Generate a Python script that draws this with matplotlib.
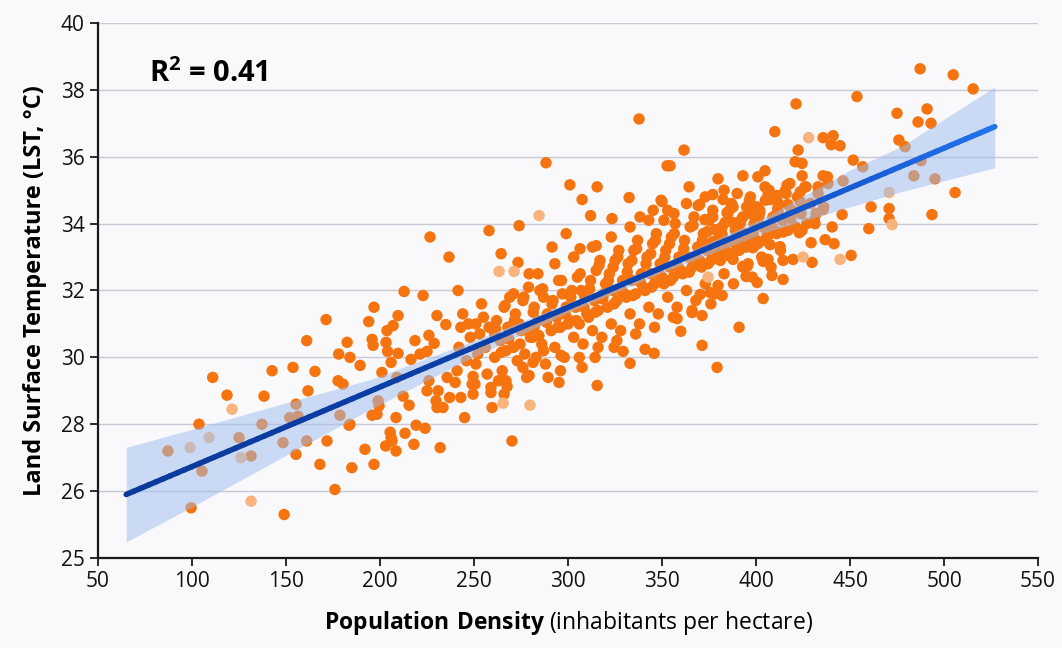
import numpy as np
import matplotlib.pyplot as plt
from matplotlib.collections import LineCollection
from matplotlib.colors import LinearSegmentedColormap

plt.rcParams['font.family'] = ['Open Sans', 'DejaVu Sans']
plt.rcParams['mathtext.fontset'] = 'custom'
plt.rcParams['mathtext.rm'] = 'Open Sans'
plt.rcParams['mathtext.bf'] = 'Open Sans:bold'

# (population density, LST)
sparse_pts = [
    (87.2, 27.2), (105.3, 26.6), (99.5, 25.5), (131.4, 27.05), (149, 25.3), (155.3, 27.1), (161, 27.5),
    (168, 26.8), (171.8, 27.5), (176, 26.05), (185, 26.7), (192, 27.25), (196.8, 26.8), (203, 27.35),
    (206.4, 27.5), (208.5, 27.2), (218, 27.4), (232, 27.3), (148.4, 27.45),
    (111, 29.4), (118.6, 28.87), (138.3, 28.84), (142.6, 29.6), (153.7, 29.7), (165.4, 29.58), (161, 30.5),
    (178, 30.1), (182.5, 30.45), (177.7, 29.3), (161.7, 29.0), (155.3, 28.6), (152, 28.2), (156.4, 28.24),
    (137.2, 28.0), (125, 27.6), (103.7, 28.0), (184, 30.0), (184, 28.0),
    (226.6, 33.6), (236.7, 33.0), (212.8, 31.97), (222.9, 31.85), (241.5, 32.0), (196.8, 31.5), (209.6, 31.25),
    (194, 31.07), (171.3, 31.13), (230.3, 31.25), (235, 30.98), (207, 30.95), (203.7, 30.8), (195.8, 30.54),
    (196.3, 30.36), (203.2, 30.45), (218.6, 30.5), (226, 30.66), (228.8, 30.42), (204, 30.18), (209.6, 30.12),
    (216.5, 29.94), (221.3, 30.1), (225, 30.18), (205.9, 29.85), (189.4, 29.76), (201, 29.55), (180.3, 29.2),
    (226, 29.3), (225, 29.0), (230.9, 29.0), (212.3, 28.84), (199, 28.7), (215.5, 28.57), (178.7, 28.27),
    (195.8, 28.27), (198.4, 28.3), (208.5, 28.2), (229.8, 28.7), (233.5, 28.5), (230.3, 28.5), (183.5, 27.97),
    (219.2, 27.97), (224, 27.88), (213.3, 27.73), (205.4, 27.76), (205.9, 27.6), (245, 28.2), (243, 28.8),
    (237, 28.8), (235.7, 29.4), (240, 29.25), (209, 29.4), (199.5, 28.55), (267, 29.3), (281.4, 29.85),
    (337.8, 37.13), (288.3, 35.82), (352.7, 35.73), (301, 35.16), (315.5, 35.1), (307.5, 34.72), (332.5, 34.78),
    (312, 34.24), (274, 33.94), (258, 33.79), (299, 33.7), (323.4, 34.15), (338.3, 34.2), (345.3, 34.4),
    (349.5, 34.7), (291.5, 33.3), (306.4, 33.25), (315, 33.34), (264.4, 33.1), (273.4, 32.84), (279.3, 32.5),
    (270.2, 27.5), (259.6, 28.5), (307.5, 29.7), (315.5, 29.16), (295.2, 29.25), (289.4, 29.4), (333, 29.82),
    (345.8, 30.12), (341, 30.24), (329.3, 30.18), (324.5, 30.3), (314.4, 30.0), (296.3, 30.06), (279.3, 29.46),
    (267.6, 29.13), (259, 28.95), (249.5, 28.9), (250.5, 29.2), (249.5, 29.43),
    (421.3, 37.58), (453.7, 37.8), (410, 36.75), (435.7, 36.57), (441, 36.63), (440, 36.36), (444.7, 36.33),
    (422.4, 36.2), (361.7, 36.2), (354.3, 35.73), (420.8, 35.85), (424.5, 35.8), (451.7, 35.9), (379.8, 35.34),
    (393, 35.43), (401, 35.4), (404.8, 35.58), (364.4, 35.1), (424.5, 35.43), (435.7, 35.43), (426.6, 35.1),
    (433, 35.1), (438.3, 35.2), (446.3, 35.28), (390, 34.9), (382.5, 34.72), (377, 34.87), (369.2, 34.54),
    (350, 34.66), (415.5, 34.98), (411.3, 34.84), (407.5, 34.72), (387.8, 34.5), (400.6, 34.5), (397, 34.36),
    (402, 34.33), (356.4, 34.3), (351, 34.1), (440.5, 33.9), (445.8, 34.27), (432, 34.3), (435.7, 34.42),
    (436.8, 33.52), (441.5, 33.4), (450.6, 33.05), (429.3, 33.43), (429.8, 32.84), (423, 33.73), (424.5, 33.8),
    (414.4, 32.9), (408.5, 32.45), (414.4, 32.33), (419.7, 32.93), (400.6, 32.24), (394.7, 32.42), (395.3, 32.72),
    (395.8, 32.8), (403.8, 32.87), (406.4, 32.93), (407.5, 33.37), (412.8, 33.31), (403.8, 31.76), (391, 30.9),
    (371.3, 30.36), (379.3, 29.7), (360, 30.78), (358, 31.16), (366, 31.34), (371.3, 31.25), (379.8, 32.15),
    (382, 31.85), (375.6, 31.94), (370.3, 31.88),
    (431.4, 34.0), (423.5, 34.95), (404.8, 35.1), (417, 34.57), (423.5, 34.66), (418.7, 34.33), (411.7, 34.36),
    (411.3, 33.76), (406, 33.73), (398, 34.27), (393, 34.2), (401, 33.43), (393, 33.6), (398.4, 33.28),
    (390.4, 33.22), (387.8, 32.93), (393, 32.72), (370, 34.57), (372.8, 34.12), (377, 34.2), (384.6, 34.33),
    (383.5, 34.03), (387.8, 34.03), (378.2, 33.82), (374, 33.76), (382, 33.67), (377, 33.46), (372.8, 33.31),
    (380.8, 33.22), (387.8, 33.13), (392.6, 33.52), (395.2, 33.31), (396.8, 33.61), (399.5, 33.91),
    (487.3, 38.63), (504.9, 38.45), (515.5, 38.03), (475, 37.3), (491, 37.43), (486.2, 37.04), (493.1, 37.0),
    (476, 36.5), (479.3, 36.3), (487.8, 35.88), (484, 35.43), (495.2, 35.34), (505.9, 34.93), (493.6, 34.27),
    (461.2, 34.5), (470.8, 34.45), (470.8, 34.15), (460, 33.85), (456.8, 35.7),
]

core_pts = [
    (241, 29.6), (243, 30.9), (246, 29.9), (248, 30.6), (244, 31.3), (249, 29.2), (242, 30.3), (247, 31.0),
    (251, 29.8), (253, 30.7), (255, 31.2), (252, 30.1), (257, 29.5), (258, 30.9), (254, 31.6), (256, 30.3),
    (259, 29.1), (251, 31.0),
    (261, 30.0), (262, 31.1), (264, 30.5), (265, 29.6), (266, 31.5), (268, 30.9), (263, 29.3), (267, 30.2),
    (269, 31.8), (261, 30.7), (266, 28.9), (261.5, 30.85), (264.5, 30.15), (266.5, 31.55), (268.5, 30.55),
    (271, 30.3), (272, 31.3), (273, 29.9), (275, 30.8), (276, 31.7), (277, 30.1), (278, 29.4), (274, 31.0),
    (279, 32.1), (276, 29.7), (271, 31.9), (280, 30.6), (271.5, 31.1), (274.5, 30.4), (276.5, 31.8), (278.5, 30.8),
    (281, 30.6), (282, 31.5), (283, 30.0), (284, 31.1), (285, 32.0), (286, 30.4), (287, 31.8), (288, 29.8),
    (289, 31.3), (284, 32.5), (282, 30.9), (287, 30.2), (281.5, 31.35), (284.5, 30.65), (286.5, 32.05), (288.5, 31.05),
    (291, 30.8), (292, 31.7), (293, 30.3), (294, 31.2), (295, 32.3), (296, 30.9), (297, 31.9), (298, 30.0),
    (299, 31.5), (293, 32.8), (296, 29.6), (300, 31.0), (291.5, 31.6), (294.5, 30.9), (296.5, 32.3), (298.5, 31.3),
    (301, 31.1), (302, 32.0), (303, 30.6), (304, 31.5), (305, 32.4), (306, 31.0), (307, 32.0), (308, 30.4),
    (309, 31.8), (303, 33.0), (306, 30.0), (310, 31.3), (301.5, 31.8), (304.5, 31.1), (306.5, 32.5), (308.5, 31.5),
    (311, 31.2), (312, 32.3), (313, 30.8), (314, 31.7), (315, 32.6), (316, 31.4), (317, 32.9), (318, 30.6),
    (319, 31.9), (313, 33.3), (316, 30.3), (320, 32.2), (311.5, 32.05), (314.5, 31.35), (316.5, 32.75), (318.5, 31.75),
    (321, 31.5), (322, 32.5), (323, 31.0), (324, 32.0), (325, 32.9), (326, 31.7), (327, 33.2), (328, 30.8),
    (329, 32.3), (323, 33.6), (326, 30.5), (330, 31.9), (324, 32.7), (321.5, 32.3), (324.5, 31.6), (326.5, 33.0),
    (328.5, 32.0),
    (331, 31.8), (332, 32.8), (333, 31.3), (334, 32.3), (335, 33.2), (336, 31.9), (337, 33.5), (338, 31.0),
    (339, 32.5), (333, 33.9), (336, 30.7), (340, 32.1), (334, 32.9), (331.5, 32.55), (334.5, 31.85), (336.5, 33.25),
    (338.5, 32.25),
    (341, 32.0), (342, 33.0), (343, 31.5), (344, 32.5), (345, 33.4), (346, 32.2), (347, 33.7), (348, 31.3),
    (349, 32.8), (343, 34.1), (346, 30.9), (350, 32.4), (344, 33.1), (341.5, 32.8), (344.5, 32.1), (346.5, 33.5),
    (348.5, 32.5),
    (351, 32.2), (352, 33.2), (353, 31.8), (354, 32.7), (355, 33.6), (356, 32.4), (357, 34.0), (358, 31.5),
    (359, 33.0), (353, 34.4), (356, 31.2), (360, 32.6), (354, 33.4), (351.5, 33.0), (354.5, 32.3), (356.5, 33.7),
    (358.5, 32.7),
    (361, 32.5), (362, 33.5), (363, 32.0), (364, 33.0), (365, 33.9), (366, 32.7), (367, 34.2), (368, 31.7),
    (369, 33.3), (363, 34.6), (366, 31.4), (370, 32.9), (361.5, 33.25), (364.5, 32.55), (366.5, 33.95), (368.5, 32.95),
    (371, 32.7), (372, 33.7), (373, 32.2), (374, 33.2), (375, 34.1), (376, 32.9), (377, 34.4), (378, 31.9),
    (379, 33.5), (373, 34.8), (376, 31.6), (380, 33.1), (371.5, 33.5), (374.5, 32.8), (376.5, 34.2), (378.5, 33.2),
    (381, 32.9), (382, 33.9), (383, 32.5), (384, 33.4), (385, 34.3), (386, 33.1), (387, 34.6), (388, 32.2),
    (389, 33.8), (383, 35.0), (390, 33.3), (381.5, 33.75), (384.5, 33.05), (386.5, 34.45), (388.5, 33.45),
    (391, 33.2), (392, 34.1), (393, 32.7), (394, 33.7), (395, 34.5), (396, 33.4), (397, 34.8), (398, 32.4),
    (399, 34.0), (400, 33.5), (391.5, 34.0), (394.5, 33.3), (396.5, 34.7), (398.5, 33.7),
    (401, 33.4), (402, 34.4), (403, 33.0), (404, 33.9), (405, 34.7), (406, 33.6), (407, 35.0), (408, 32.7),
    (409, 34.2), (401.5, 34.2), (404.5, 33.5), (406.5, 34.9), (408.5, 33.9),
    (411, 33.7), (412, 34.6), (413, 33.2), (414, 34.1), (416, 34.9), (417, 33.8), (418, 35.2), (419, 34.4),
    (411.5, 34.45), (414.5, 33.75), (416.5, 35.15), (418.5, 34.15),
    (421, 33.9), (422, 34.8), (424, 34.3), (426, 35.1), (427, 34.0), (429, 34.6),
    (431, 34.1), (433, 34.9), (436, 34.5), (438, 35.4),
]

faded_pts = [
    (99, 27.3), (121.3, 28.45), (109, 27.6), (126, 27.0), (131.4, 25.7), (284.6, 34.24), (263.3, 32.57),
    (271.3, 32.57), (265.5, 28.63), (279.8, 28.57), (428, 36.57), (444.7, 32.93), (425, 33.0), (470.8, 34.93),
    (472.4, 33.97), (374.5, 32.4),
]

# regression line and its shaded band
fit_x = [65, 527]
fit_y = [25.9, 36.9]
band_x = [65, 100, 150, 195, 245, 300, 350, 405, 450, 477, 527]
band_lo = [24.48, 25.53, 27.07, 28.45, 29.88, 31.34, 32.53, 33.74, 34.5, 34.95, 35.67]
band_hi = [27.31, 27.85, 28.64, 29.34, 30.4, 31.62, 32.8, 34.2, 35.6, 36.3, 38.09]

y_ticks = [24, 26, 28, 30, 32, 34, 36, 38, 40]
y_tick_labels = ['25', '26', '28', '30', '32', '34', '36', '38', '40']
x_ticks = [50, 100, 150, 200, 250, 300, 350, 400, 450, 500, 550]

bg = '#f9f9fb'
fig = plt.figure(figsize=(10.62, 6.48), dpi=100, facecolor=bg)
ax = fig.add_axes([0.0923, 0.1389, 0.8851, 0.8256], facecolor=bg)

main = np.array(sparse_pts + core_pts)
faded = np.array(faded_pts)
ax.scatter(main[:, 0], main[:, 1], s=68, color='#f5740f', edgecolors='none', zorder=2)
ax.scatter(faded[:, 0], faded[:, 1], s=68, color='#f8b47c', edgecolors='none', zorder=2)

ax.fill_between(band_x, band_lo, band_hi, color='#9dbdf0', alpha=0.5, lw=0, zorder=3)

lx = np.linspace(fit_x[0], fit_x[1], 120)
ly = np.interp(lx, fit_x, fit_y)
segs = np.stack([np.column_stack([lx[:-1], ly[:-1]]), np.column_stack([lx[1:], ly[1:]])], axis=1)
cmap = LinearSegmentedColormap.from_list('ln', [(0, '#0b3a9a'), (0.65, '#0b44b2'), (0.88, '#1a60da'), (1, '#2272ea')])
lc = LineCollection(segs, colors=cmap(np.linspace(0, 1, len(segs))), linewidths=4, capstyle='round', zorder=4)
ax.add_collection(lc)

ax.set_xlim(50, 550)
ax.set_ylim(24, 40)
ax.set_xticks(x_ticks)
ax.set_yticks(y_ticks)
ax.set_yticklabels(y_tick_labels)
ax.grid(axis='y', color='#c8c8d6', lw=1)
ax.set_axisbelow(True)
for s in ['top', 'right']:
    ax.spines[s].set_visible(False)
for s in ['left', 'bottom']:
    ax.spines[s].set_color('#1a1a1a')
    ax.spines[s].set_linewidth(1.6)
ax.tick_params(length=6, width=1.3, labelsize=15, color='#1a1a1a', labelcolor='#111111')

ax.set_ylabel('Land Surface Temperature (LST, °C)', fontsize=17, fontweight='bold', labelpad=10)
ax.set_xlabel(r'$\mathbf{Population\ Density}$ (inhabitants per hectare)', fontsize=16.5, labelpad=12)
ax.text(0.054, 0.905, r'$\mathbf{R^2}$ = 0.41', transform=ax.transAxes, fontsize=21,
        fontweight='bold', va='center', ha='left')

fig.savefig('out.png', dpi=100, facecolor=bg)
